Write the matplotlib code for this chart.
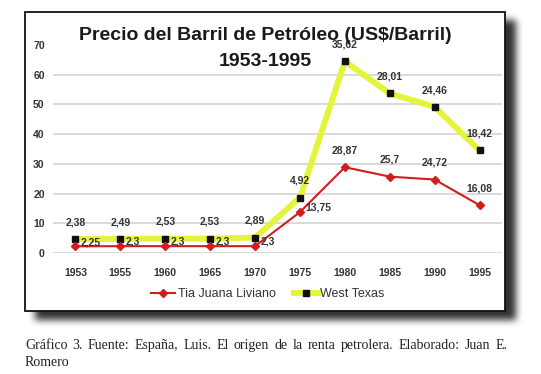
import numpy as np
import matplotlib
matplotlib.use("Agg")
import matplotlib.pyplot as plt
from matplotlib.patches import Rectangle
from matplotlib.lines import Line2D

# ---------------- data ----------------
years = ["1953", "1955", "1960", "1965", "1970", "1975", "1980", "1985", "1990", "1995"]
tia_juana = [2.25, 2.3, 2.3, 2.3, 2.3, 13.75, 28.87, 25.7, 24.72, 16.08]
west_texas = [2.38, 2.49, 2.53, 2.53, 2.89, 4.92, 35.62, 28.01, 24.46, 18.42]
series_names = ["Tia Juana Liviano", "West Texas"]
y_ticks = [0, 10, 20, 30, 40, 50, 60, 70]
title_lines = ["Precio del Barril de Petróleo (US$/Barril)", "1953-1995"]
caption_line1 = "Gráfico 3. Fuente: España, Luis. El origen de la renta petrolera. Elaborado: Juan E."
caption_line2 = "Romero"

W, H = 541, 374
DPI = 100
plt.rcParams['font.family'] = ['Liberation Sans', 'DejaVu Sans']

fig = plt.figure(figsize=(W / DPI, H / DPI), dpi=DPI)
fig.patch.set_facecolor("white")

def fx(px):
    return px / W

def fy(py):  # py measured from top
    return (H - py) / H

# ---------------- box + shadow ----------------
bx0, bx1, by0, by1 = 25, 505, 12, 311   # box in pixels (from top)
yy, xx = np.mgrid[0:H, 0:W]
sdx, sdy = 10, 8
mask = ((xx >= bx0 + sdx) & (xx <= bx1 + sdx) & (yy >= by0 + sdy) & (yy <= by1 + sdy)).astype(float)

def box_blur(a, r):
    k = 2 * r + 1
    p = np.pad(a, r, mode="edge")
    c = np.cumsum(p, axis=0)
    c = np.vstack([np.zeros((1, c.shape[1])), c])
    a = (c[k:] - c[:-k]) / k
    c = np.cumsum(a, axis=1)
    c = np.hstack([np.zeros((c.shape[0], 1)), c])
    return (c[:, k:] - c[:, :-k]) / k

for _ in range(3):
    mask = box_blur(mask, 3)
shadow = np.zeros((H, W, 4))
shadow[..., 0:3] = 0.15
shadow[..., 3] = np.clip(mask * 0.95, 0, 1)
fig.figimage(shadow, 0, 0, origin="upper", zorder=0)

fig.patches.append(Rectangle((fx(bx0), fy(by1)), fx(bx1 - bx0), (by1 - by0) / H,
                             transform=fig.transFigure, facecolor="white",
                             edgecolor="#111111", linewidth=1.3, zorder=1))

# ---------------- axes ----------------
ax_l, ax_r, ax_top, ax_bot = 53, 502, 45, 253
ax = fig.add_axes([fx(ax_l), fy(ax_bot), fx(ax_r - ax_l), (ax_bot - ax_top) / H], zorder=2)
ax.patch.set_visible(False)

x = np.arange(len(years))
stacked_wt = [a + b for a, b in zip(tia_juana, west_texas)]

red = "#d11d1d"
yellow = "#e4f43c"

ax.plot(x, tia_juana, color=red, lw=1.5, marker="D", ms=3.8, mfc=red, mec=red, zorder=4)
ax.plot(x, stacked_wt, color=yellow, lw=4.3, marker="s", ms=5, mfc="#111111",
        mec="#111111", zorder=3, solid_joinstyle="round")

ax.set_xlim(-0.5, len(years) - 0.5)
ax.set_ylim(0, 70)
ax.set_yticks(y_ticks)
ax.set_xticks(x)
ax.set_xticklabels(years)
for s in ax.spines.values():
    s.set_visible(False)
ax.tick_params(axis="both", length=0, labelsize=7.5, colors="#333333")
ax.tick_params(axis="y", pad=6)
ax.tick_params(axis="x", pad=11)
for lab in ax.get_xticklabels() + ax.get_yticklabels():
    lab.set_fontweight("bold")
ax.yaxis.grid(True, color="#d3d3d3", lw=1.2)
ax.set_axisbelow(True)
gl = ax.yaxis.get_gridlines()
gl[-1].set_visible(False)

def fmt(v):
    return ("%g" % v).replace(".", ",")

label_kw = dict(fontsize=7.5, fontweight="bold", color="#333333", zorder=6)
for i, (v, s) in enumerate(zip(west_texas, stacked_wt)):
    ax.annotate(fmt(v), (x[i], s), xytext=(0, 12), textcoords="offset points",
                ha="center", va="center", **label_kw)
for i, v in enumerate(tia_juana):
    if i <= 5:
        ax.annotate(fmt(v), (x[i], v), xytext=(4, 3), textcoords="offset points",
                    ha="left", va="center", **label_kw)
    else:
        ax.annotate(fmt(v), (x[i], v), xytext=(0, 12), textcoords="offset points",
                    ha="center", va="center", **label_kw)

# ---------------- title ----------------
fig.text(fx(265), fy(35), title_lines[0], ha="center", va="center", fontsize=14,
         fontweight="bold", color="#1a1a1a", zorder=10)
fig.text(fx(265), fy(61), title_lines[1], ha="center", va="center", fontsize=14,
         fontweight="bold", color="#1a1a1a", zorder=10)

# ---------------- legend ----------------
handles = [Line2D([], [], color=red, lw=1.5, marker="D", ms=3.8, mfc=red, mec=red),
           Line2D([], [], color=yellow, lw=4.3, marker="s", ms=5, mfc="#111111", mec="#111111")]
leg = fig.legend(handles, series_names, loc="center", bbox_to_anchor=(fx(268), fy(294)),
                 ncol=2, frameon=False, fontsize=9, handlelength=1.9,
                 handletextpad=0.2, columnspacing=1.5)
for t in leg.get_texts():
    t.set_color("#333333")

# ---------------- caption (justified) ----------------
cap_kw = dict(fontsize=10, family="Liberation Serif", color="#222222", va="baseline")
fig.canvas.draw()
renderer = fig.canvas.get_renderer()
words = caption_line1.split(" ")
tmp = [fig.text(0, 0, w_, **cap_kw) for w_ in words]
widths = [t.get_window_extent(renderer).width for t in tmp]
for t in tmp:
    t.remove()
left, right = 25, 507
gap = (right - left - sum(widths)) / (len(words) - 1)
pos = left
for w_, wd in zip(words, widths):
    fig.text(fx(pos), fy(349), w_, ha="left", **cap_kw)
    pos += wd + gap
fig.text(fx(left), fy(366), caption_line2, ha="left", **cap_kw)

fig.savefig("out.png", dpi=DPI, facecolor="white")
